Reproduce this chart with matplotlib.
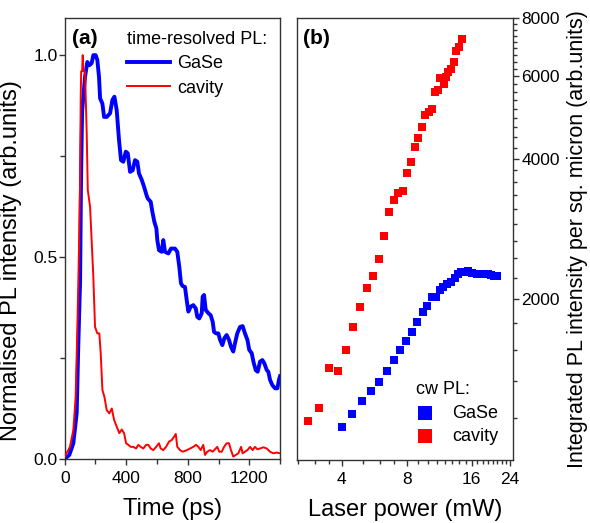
import matplotlib
matplotlib.use('Agg')
import matplotlib.pyplot as plt
from matplotlib.ticker import FixedLocator, FixedFormatter, NullFormatter

plt.rcParams['font.family'] = ['Liberation Sans', 'DejaVu Sans']

# (a) time-resolved PL, normalised
t_gase = [0, 30, 56, 78, 88, 100, 106, 113, 132, 147, 160, 175, 186, 201, 212, 223, 230, 245,
          256, 273, 295, 310, 323, 338, 353, 366, 381, 397, 410, 425, 442, 457, 472, 483,
          500, 516, 533, 540, 559, 570, 583, 596, 602, 613, 631, 641, 652, 674, 691, 717,
          732, 745, 756, 767, 782, 793, 804, 819, 836, 852, 862, 875, 891, 897, 906, 917,
          934, 949, 962, 971, 984, 999, 1010, 1025, 1038, 1053, 1068, 1081, 1096, 1107,
          1122, 1140, 1157, 1172, 1188, 1200, 1216, 1227, 1242, 1255, 1270, 1285, 1298,
          1314, 1324, 1335, 1350, 1368, 1383, 1393, 1400]
pl_gase = [0.0, 0.01, 0.039, 0.114, 0.278, 0.44, 0.69, 0.86, 0.946, 0.983, 0.975, 0.98, 1.0,
           1.0, 0.988, 0.946, 0.893, 0.88, 0.847, 0.847, 0.856, 0.889, 0.897, 0.864, 0.79,
           0.74, 0.736, 0.761, 0.757, 0.711, 0.715, 0.74, 0.736, 0.707, 0.692, 0.674, 0.652,
           0.645, 0.637, 0.612, 0.587, 0.571, 0.542, 0.517, 0.513, 0.542, 0.513, 0.509,
           0.521, 0.521, 0.513, 0.476, 0.435, 0.428, 0.426, 0.394, 0.365, 0.377, 0.381,
           0.373, 0.352, 0.348, 0.361, 0.402, 0.406, 0.369, 0.361, 0.356, 0.34, 0.315,
           0.311, 0.311, 0.295, 0.282, 0.299, 0.307, 0.295, 0.278, 0.266, 0.286, 0.311,
           0.327, 0.329, 0.311, 0.295, 0.27, 0.262, 0.241, 0.22, 0.216, 0.241, 0.245,
           0.237, 0.22, 0.216, 0.196, 0.183, 0.175, 0.175, 0.196, 0.205]

t_cav = [0, 34, 56, 71, 82, 93, 100, 104, 107, 113, 117, 122, 132, 143, 150, 165, 175, 186,
         197, 212, 225, 234, 245, 258, 273, 290, 306, 321, 338, 355, 371, 386, 399, 414,
         429, 446, 464, 479, 494, 511, 529, 544, 559, 576, 594, 613, 624, 641, 659, 678,
         696, 711, 722, 732, 750, 767, 789, 815, 836, 854, 869, 884, 901, 912, 927, 945,
         962, 977, 992, 1005, 1021, 1036, 1053, 1068, 1081, 1096, 1112, 1129, 1147, 1157,
         1172, 1188, 1205, 1222, 1237, 1253, 1270, 1292, 1314, 1335, 1357, 1379, 1400]
pl_cav = [0.006, 0.03, 0.072, 0.154, 0.32, 0.526, 0.69, 0.897, 0.96, 0.96, 1.0, 0.96, 0.959,
          0.806, 0.666, 0.624, 0.542, 0.451, 0.327, 0.311, 0.311, 0.262, 0.171, 0.154,
          0.121, 0.113, 0.125, 0.097, 0.08, 0.064, 0.073, 0.064, 0.039, 0.035, 0.03, 0.03,
          0.026, 0.035, 0.03, 0.026, 0.035, 0.035, 0.026, 0.022, 0.03, 0.039, 0.026,
          0.022, 0.03, 0.043, 0.047, 0.055, 0.062, 0.03, 0.022, 0.018, 0.021, 0.026, 0.03,
          0.035, 0.03, 0.022, 0.035, 0.01, 0.018, 0.022, 0.018, 0.024, 0.03, 0.018, 0.018,
          0.03, 0.039, 0.039, 0.022, 0.006, 0.01, 0.014, 0.03, 0.014, 0.018, 0.022, 0.03,
          0.022, 0.03, 0.024, 0.026, 0.029, 0.026, 0.018, 0.014, 0.016, 0.014]

# (b) cw PL vs laser power
p_gase = [4.00, 4.48, 4.99, 5.47, 5.97, 6.50, 6.99, 7.47, 7.98, 8.49, 8.95, 9.47, 9.97,
          10.44, 10.93, 11.39, 11.84, 12.32, 12.87, 13.35, 13.79, 14.35, 14.86, 15.46,
          16.05, 16.88, 17.54, 18.2, 18.94, 19.55, 20.23, 20.96]
i_gase = [1062, 1132, 1212, 1271, 1325, 1402, 1483, 1554, 1625, 1702, 1783, 1872, 1934,
          2020, 2023, 2088, 2124, 2154, 2170, 2213, 2260, 2282, 2288, 2295, 2274, 2266,
          2265, 2263, 2262, 2247, 2238, 2236]

p_cav = [2.80, 3.14, 3.49, 3.83, 4.19, 4.53, 4.88, 5.24, 5.58, 5.94, 6.29, 6.64, 6.97, 7.31,
         7.67, 8.01, 8.37, 8.71, 9.07, 9.40, 9.75, 10.12, 10.44, 10.82, 11.15, 11.45, 11.91,
         12.13, 12.43, 12.79, 13.28, 13.56, 13.93, 14.46]
i_cav = [1098, 1170, 1422, 1400, 1556, 1744, 1926, 2112, 2244, 2438, 2728, 3074, 3262, 3376,
         3406, 3733, 3929, 4242, 4433, 4665, 4962, 5024, 5100, 5542, 5608, 5961, 5769, 5990,
         6124, 6216, 6445, 6785, 6942, 7206]

fig = plt.figure(figsize=(5.9, 5.23), dpi=100)
ax1 = fig.add_axes([0.1097, 0.1224, 0.3649, 0.8432])
ax2 = fig.add_axes([0.5034, 0.1205, 0.3661, 0.8451])

spine_col = '#333333'
for ax in (ax1, ax2):
    for s in ax.spines.values():
        s.set_color(spine_col)
        s.set_linewidth(1.0)

# panel (a)
ax1.plot(t_gase, pl_gase, color='#0000ff', lw=2.8, label='GaSe', zorder=2)
ax1.plot(t_cav, pl_cav, color='#ff0000', lw=1.4, label='cavity', zorder=3)
ax1.set_xlim(0, 1400)
ax1.set_ylim(0, 1.092)
ax1.set_xticks([0, 400, 800, 1200])
ax1.xaxis.set_minor_locator(FixedLocator([200, 600, 1000, 1400]))
ax1.set_yticks([0.0, 0.5, 1.0])
ax1.set_yticklabels(['0.0', '0.5', '1.0'])
ax1.yaxis.set_minor_locator(FixedLocator([0.25, 0.75]))
ax1.tick_params(which='both', direction='out', labelsize=12.5, color=spine_col)
ax1.tick_params(which='major', length=4, width=1)
ax1.tick_params(which='minor', length=3.5, width=1)
ax1.tick_params(axis='y', pad=1)
ax1.tick_params(axis='x', pad=5)
ax1.set_xlabel('Time (ps)', fontsize=17, labelpad=8)
ax1.set_ylabel('Normalised PL intensity (arb.units)', fontsize=17)
ax1.yaxis.set_label_coords(-0.2, 0.45)
ax1.text(0.035, 0.975, '(a)', transform=ax1.transAxes, fontsize=15, fontweight='bold',
         ha='left', va='top')
ax1.legend(title='time-resolved PL:', loc='upper left', bbox_to_anchor=(0.29, 0.97),
           frameon=False, alignment='left', fontsize=13, title_fontsize=13,
           handlelength=2.4, handletextpad=0.35, labelspacing=0.4, borderpad=0,
           borderaxespad=0)

# panel (b)
ax2.scatter(p_gase, i_gase, marker='s', s=26, color='#0000ff', linewidths=0, label='GaSe')
ax2.scatter(p_cav, i_cav, marker='s', s=26, color='#ff0000', linewidths=0, label='cavity')
ax2.set_xscale('log', base=2)
ax2.set_yscale('log')
ax2.set_xlim(2.485, 24.85)
ax2.set_ylim(904, 8000)
ax2.xaxis.set_major_locator(FixedLocator([4, 8, 16, 24]))
ax2.xaxis.set_major_formatter(FixedFormatter(['4', '8', '16', '24']))
x_minor = [2.5, 3, 3.5, 5, 6, 7] + list(range(9, 16)) + list(range(17, 24))
ax2.xaxis.set_minor_locator(FixedLocator(x_minor))
ax2.xaxis.set_minor_formatter(NullFormatter())
ax2.yaxis.tick_right()
ax2.yaxis.set_label_position('right')
ax2.yaxis.set_major_locator(FixedLocator([2000, 4000, 6000, 8000]))
ax2.yaxis.set_major_formatter(FixedFormatter(['2000', '4000', '6000', '8000']))
y_minor = [k * 2000 / 9 for k in range(1, 37) if k % 9 != 0]
ax2.yaxis.set_minor_locator(FixedLocator(y_minor))
ax2.yaxis.set_minor_formatter(NullFormatter())
ax2.tick_params(which='both', direction='out', labelsize=12.5, color=spine_col)
ax2.tick_params(which='major', length=4, width=1)
ax2.tick_params(which='minor', length=3, width=1)
ax2.tick_params(axis='y', pad=2)
ax2.tick_params(axis='x', pad=5)
ax2.set_xlabel('Laser power (mW)', fontsize=17, labelpad=8)
ax2.set_ylabel('Integrated PL intensity per sq. micron (arb.units)', fontsize=15.5,
               labelpad=5)
ax2.text(0.03, 0.975, '(b)', transform=ax2.transAxes, fontsize=15, fontweight='bold',
         ha='left', va='top')
ax2.legend(title='cw PL:', loc='upper left', bbox_to_anchor=(0.55, 0.178),
           frameon=False, alignment='left', fontsize=13, title_fontsize=13,
           markerscale=2.0, scatterpoints=1, handlelength=1.0, handletextpad=1.0,
           labelspacing=0.35, borderpad=0, borderaxespad=0)

fig.savefig('out.png', dpi=100)
